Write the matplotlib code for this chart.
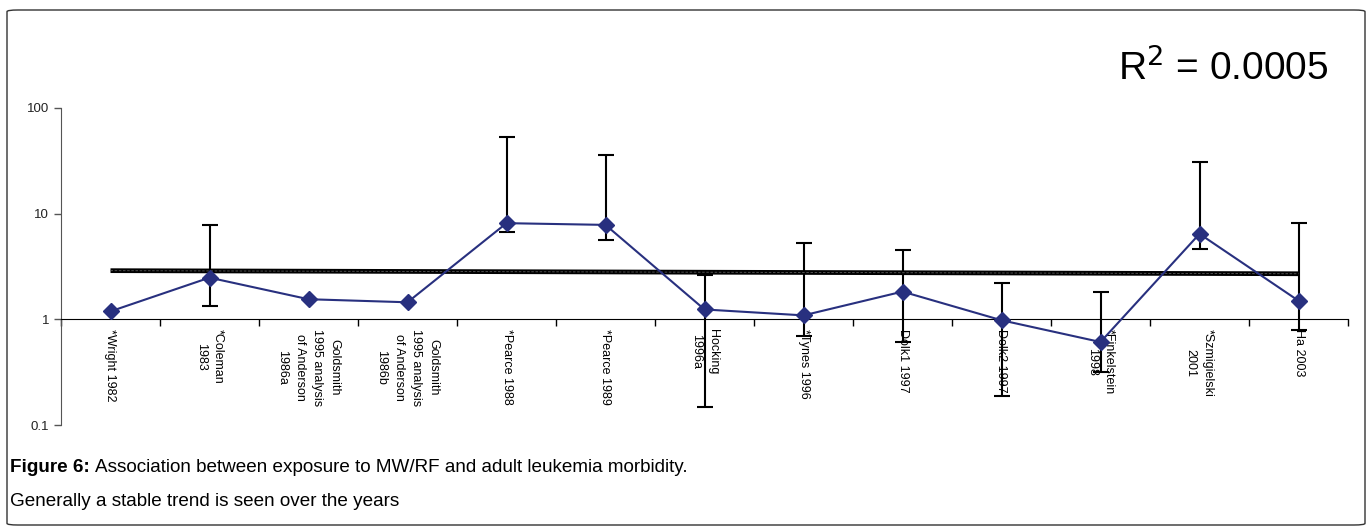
import matplotlib
matplotlib.use("Agg")
import matplotlib.pyplot as plt
import numpy as np
from matplotlib.patches import FancyBboxPatch

plt.rcParams["font.family"] = ["Liberation Sans", "DejaVu Sans"]

studies = [
    "*Wright 1982", "*Coleman\n1983",
    "Goldsmith\n1995 analysis\nof Anderson\n1986a",
    "Goldsmith\n1995 analysis\nof Anderson\n1986b",
    "*Pearce 1988", "*Pearce 1989", "Hocking\n1996a", "*Tynes 1996",
    "Dolk1 1997", "Dolk2 1997", "*Finkelstein\n1998", "*Szmigielski\n2001",
    "Ha 2003",
]
risk = [1.19, 2.48, 1.55, 1.45, 8.13, 7.83, 1.24, 1.09, 1.83, 0.98, 0.61, 6.44, 1.50]
ci_low = [np.nan, 1.34, np.nan, np.nan, 6.68, 5.69, 0.148, 0.70, 0.61, 0.187, 0.316, 4.68, 0.80]
ci_high = [np.nan, 7.78, np.nan, np.nan, 53.5, 36.1, 2.60, 5.25, 4.51, 2.23, 1.83, 31.0, 8.18]

x = np.arange(len(studies))
risk = np.array(risk)
lo = np.array(ci_low)
hi = np.array(ci_high)
has_ci = ~np.isnan(lo)

fig = plt.figure(figsize=(13.67, 5.27), dpi=100)
ax = fig.add_axes([61 / 1367, 1 - 425 / 527, (1348 - 61) / 1367, (425 - 108) / 527])

# confidence intervals
ax.errorbar(x[has_ci], risk[has_ci],
            yerr=[risk[has_ci] - lo[has_ci], hi[has_ci] - risk[has_ci]],
            fmt="none", ecolor="black", elinewidth=1.5, capsize=5.5,
            capthick=1.5, zorder=2)

# linear trend through the estimates
slope, icpt = np.polyfit(x, risk, 1)
xt = np.linspace(x[0], x[-1], 200)
ax.plot(xt, icpt + slope * xt, color="black", lw=3.4, zorder=3,
        solid_capstyle="butt")
ax.plot(xt, icpt + slope * xt, color="#5a5a5a", lw=0.6, ls=(0, (3, 2)),
        zorder=3.1)

ax.plot(x, risk, color="#28307f", lw=1.5, marker="D", ms=8.5,
        mfc="#28307f", mec="#28307f", zorder=4)

ax.set_yscale("log")
ax.set_ylim(0.1, 100)
ax.set_xlim(-0.5, len(studies) - 0.5)
ax.set_yticks([0.1, 1, 10, 100])
ax.set_yticklabels(["0.1", "1", "10", "100"])
ax.yaxis.set_minor_locator(matplotlib.ticker.NullLocator())

# category axis crosses at 1
ax.spines["bottom"].set_position(("data", 1))
ax.spines["top"].set_visible(False)
ax.spines["right"].set_visible(False)
ax.spines["left"].set_color("#555555")
ax.set_xticks(np.arange(len(studies) + 1) - 0.5)
ax.set_xticklabels([])
ax.set_xticks(x, minor=True)
ax.set_xticklabels(studies, minor=True, rotation=270, fontsize=9,
                   ha="center", va="top", multialignment="center",
                   linespacing=1.6)
ax.tick_params(axis="x", which="major", length=5, width=1, direction="out")
ax.tick_params(axis="x", which="minor", length=0, pad=7)
ax.tick_params(axis="y", length=5, width=1, colors="#555555",
               labelcolor="#222222", labelsize=9.5)

fig.text(1118 / 1367, 1 - 68 / 527, r"R$^{2}$ = 0.0005", fontsize=28,
         va="center", ha="left")

# caption
renderer = fig.canvas.get_renderer()
t1 = fig.text(10 / 1367, 1 - 467 / 527, "Figure 6:", fontsize=13.6,
              fontweight="bold", va="center", ha="left")
bb = t1.get_window_extent(renderer)
fig.text((bb.x1 + 5) / 1367, 1 - 467 / 527,
         "Association between exposure to MW/RF and adult leukemia morbidity.",
         fontsize=13.6, va="center", ha="left")
fig.text(10 / 1367, 1 - 501 / 527, "Generally a stable trend is seen over the years",
         fontsize=13.6, va="center", ha="left")

frame = FancyBboxPatch((7 / 1367, 2 / 527), 1358 / 1367, 515 / 527,
                       boxstyle="round,pad=0,rounding_size=0.008",
                       transform=fig.transFigure, fill=False,
                       edgecolor="#333333", lw=1.0, mutation_aspect=527 / 1367)
fig.patches.append(frame)

fig.savefig("out.png", dpi=100)
